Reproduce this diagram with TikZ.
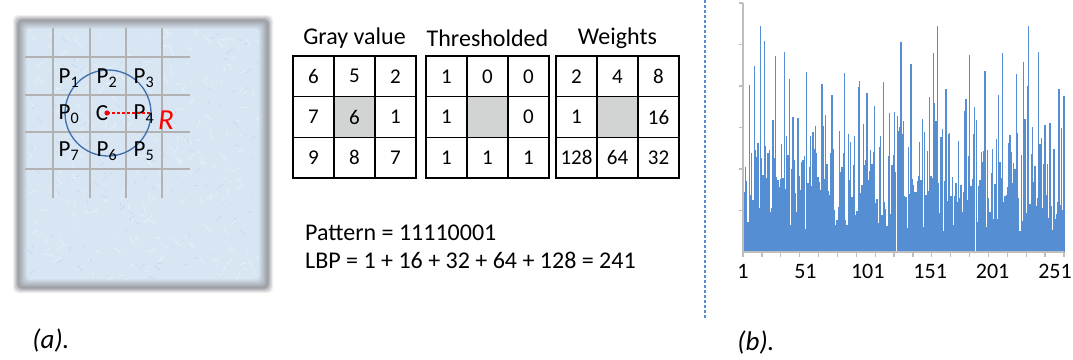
\documentclass[tikz,border=0pt]{standalone}
\usepackage{fontspec}
\setmainfont{Carlito}
\definecolor{paper}{RGB}{216,230,244}
\definecolor{frame}{RGB}{150,152,156}
\definecolor{ringblue}{RGB}{62,110,172}
\definecolor{barblue}{RGB}{86,142,212}
\definecolor{cellgray}{RGB}{210,211,211}
\definecolor{axisgray}{RGB}{190,190,190}

\begin{document}
\begin{tikzpicture}[x=1pt, y=-1pt]
            \tikzset{gridline/.style={gray!60, line width=1.3pt}}
            \tikzset{plabel/.style={font=\fontsize{23}{23}\selectfont, inner sep=0pt}}
            \tikzset{cellbox/.style={draw=black, line width=1.5pt}}
            \tikzset{cellnum/.style={font=\fontsize{21}{21}\selectfont}}
            \tikzset{head/.style={font=\fontsize{24}{24}\selectfont}}
            \tikzset{formula/.style={font=\fontsize{24}{24}\selectfont, anchor=base west, inner sep=0pt}}
            \tikzset{axis/.style={axisgray, line width=1.3pt}}
            \tikzset{ticklabel/.style={font=\fontsize{22}{22}\selectfont}}
            \tikzset{caption/.style={font=\fontsize{27}{27}\selectfont\itshape}}
            \useasboundingbox (0, 0) rectangle (1073, 359);
            % blurred frame of the image patch
            \foreach \k in {0,...,4} {
                \pgfmathtruncatemacro\m{15+17*\k}
                \fill[frame!\m!white, rounded corners=5pt] (13+\k, 15+\k) rectangle (273-\k, 293-\k);
            }
            \foreach \k in {5,...,14} {
                \pgfmathtruncatemacro\m{10*(\k-4)}
                \fill[paper!\m!frame, rounded corners=4pt] (13+\k, 15+\k) rectangle (273-\k, 293-\k);
            }
            \begin{scope}
                \clip (27, 29) rectangle (259, 279);
                \pgfmathsetseed{11}
                \foreach \i in {1,...,260} {
                    \draw[white, opacity=0.45, line width=0.6pt] (27+232*rnd, 29+250*rnd) -- ++(16*rnd-8, 16*rnd-8);
                }
                \foreach \i in {1,...,120} {
                    \draw[ringblue, opacity=0.10, line width=0.8pt] (27+232*rnd, 29+250*rnd) -- ++(12*rnd-6, 12*rnd-6);
                }
            \end{scope}
            % pixel grid
            \foreach \y in {57, 95, 132, 169}
                \draw[gridline] (25, \y) -- (190, \y);
            \foreach \x in {53, 90, 126, 162}
                \draw[gridline] (\x, 28) -- (\x, 198);
            \node[circle, draw=ringblue, line width=1.3pt, minimum size=86pt, inner sep=0pt] (ring) at (108, 113) {};
            \node[plabel] (p1) at (69, 78) {P\textsubscript{1}};
            \node[plabel] (p2) at (107, 78) {P\textsubscript{2}};
            \node[plabel] (p3) at (144, 78) {P\textsubscript{3}};
            \node[plabel] (p0) at (69, 114) {P\textsubscript{0}};
            \node[plabel] (pc) at (102, 113) {C};
            \node[plabel] (p4) at (144, 114) {P\textsubscript{4}};
            \node[plabel] (p7) at (69, 151) {P\textsubscript{7}};
            \node[plabel] (p6) at (107, 151) {P\textsubscript{6}};
            \node[plabel] (p5) at (144, 151) {P\textsubscript{5}};
            \coordinate (centre) at (107, 113);
            \fill[red] (centre) circle[radius=2.6];
            \draw[red, densely dashed, line width=1.5pt] (centre) -- (ring.east);
            \node[red, font=\fontsize{29}{29}\selectfont\itshape] (radius) at (166, 120) {R};
            \node[caption] (capa) at (51, 340) {(a).};
            % the three 3x3 tables
            \foreach \t/\x/\vals/\name in {g/293/{6,5,2,7,6,1,9,8,7}/Gray value,
                                           th/426/{1,0,0,1,{},0,1,1,1}/Thresholded,
                                           w/556/{2,4,8,1,{},16,128,64,32}/Weights} {
                \fill[cellgray] (\x+41, 97) rectangle +(41, 40);
                \foreach \v [count=\i from 0] in \vals {
                    \pgfmathtruncatemacro\r{floor(\i/3)}
                    \pgfmathtruncatemacro\c{mod(\i,3)}
                    \draw[cellbox] (\x+41*\c, 56+40.7*\r) rectangle +(41, 40.7);
                    \node[cellnum] (\t-\r-\c) at (\x+41*\c+20.5, 56+40.7*\r+20.3) {\v};
                }
                \node[head] (\t-head) at (\x+61.5, 38) {\name};
            }
            \node[formula] (pattern) at (305, 240) {Pattern = 11110001};
            \node[formula] (lbp) at (305, 268) {LBP = 1 + 16 + 32 + 64 + 128 = 241};
            % separator
            \draw[barblue, line width=1.2pt, dash pattern=on 3pt off 2pt] (705, 0) -- (705, 318);
            % histogram
            \pgfmathsetseed{2024}
            \foreach \i in {0,...,255} {
                \pgfmathsetmacro\h{min(226, 20+55*rnd+(rnd<0.6)*85*rnd+(rnd<0.25)*115*rnd)}
                \fill[barblue] (743.5+1.254*\i, 252) rectangle ++(1.25, -\h);
            }
            \draw[axis] (743, 3) -- (743, 252) -- (1064, 252);
            \foreach \y in {3, 44.5, 86, 127.5, 169, 210.5}
                \draw[axis] (739, \y) -- (743, \y);
            \foreach \k in {0,...,17}
                \draw[axis] (743+18.88*\k, 252) -- ++(0, 5);
            \foreach \n [count=\k from 0] in {1, 51, 101, 151, 201, 251}
                \node[ticklabel] (tick-\n) at (743+62.4*\k, 271) {\n};
            \node[caption] (capb) at (756, 342) {(b).};
        \end{tikzpicture}
\end{document}
